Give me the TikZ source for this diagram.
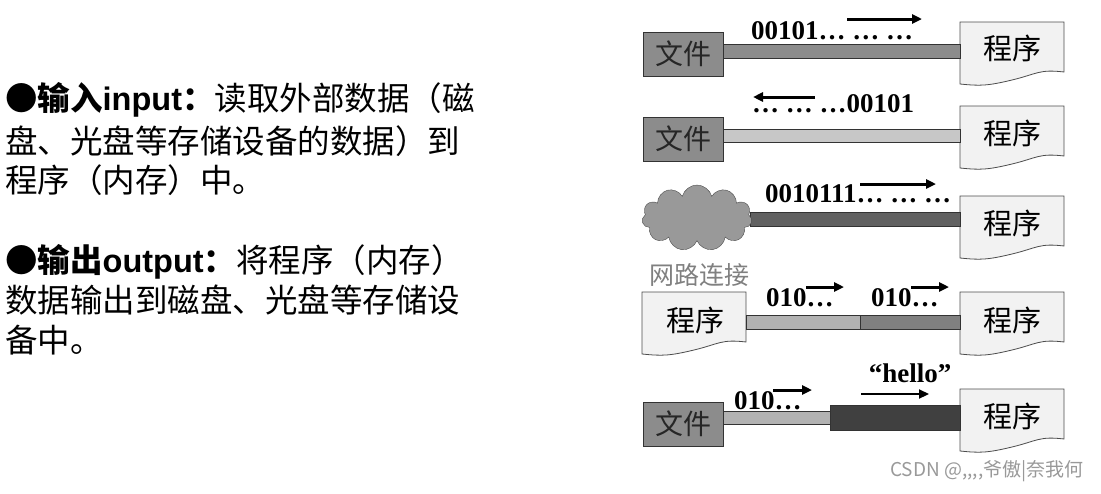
\documentclass[tikz,border=0pt]{standalone}
\usepackage{fontspec}
\setmainfont{Liberation Serif}
\newfontfamily\cjk{Noto Sans CJK SC}
\newfontfamily\sansf{Liberation Sans}
\usetikzlibrary{shapes.symbols,arrows.meta}
\begin{document}
\begin{tikzpicture}[x=1pt,y=-1pt,
  file/.style={draw=black!80,line width=1pt,fill=black!45,minimum width=80pt,minimum height=44pt,inner sep=0pt,font=\cjk\fontsize{28}{28}\selectfont,text=black!85},
  prog/.style={minimum width=104pt,minimum height=52pt,inner sep=0pt,anchor=north west},
  pt/.style={font=\cjk\fontsize{29}{29}\selectfont},
  bar/.style={draw=black!80,line width=0.8pt},
  dat/.style={font=\bfseries\fontsize{27}{27}\selectfont,inner sep=0pt},
  arr/.style={-{Triangle[length=10pt,width=9pt]},line width=3pt},
  lt/.style={anchor=west,inner sep=0pt,font=\cjk\fontsize{32.5}{32.5}\selectfont}]
\useasboundingbox (0,0) rectangle (1101,493);
\newcommand\docshape[2]{%
  \draw[draw=black!70,line width=0.8pt,fill=black!5] (#1,#2) -- ++(104,0) -- ++(0,50)
   .. controls +(-25,-3) and +(25,-6) .. ++(-52,8) .. controls +(-25,6) and +(20,2) .. ++(-52,4) -- cycle;}
% left texts
\node[lt] (t1) at (5,100) {●\textbf{输入{\sansf input}：}读取外部数据（磁};
\node[lt] (t2) at (5,141) {盘、光盘等存储设备的数据）到};
\node[lt] (t3) at (5,180) {程序（内存）中。};
\node[lt] (t4) at (5,262) {●\textbf{输出{\sansf output}：}将程序（内存）};
\node[lt] (t5) at (5,300) {数据输出到磁盘、光盘等存储设};
\node[lt] (t6) at (5,340) {备中。};
% row 1
\docshape{960}{22}
\node[prog] (p1) at (960,22) {}; \node[pt] at (1012,48) {程序};
\fill[black!45] (723,44) rectangle (960,58); \draw[bar] (723,44) rectangle (960,58);
\node[file] (f1) at (683,54) {文件};
\node[dat,anchor=west] (d1) at (751,31) {00101… … …};
\draw[arr] (847,19) -- (922,19);
% row 2
\docshape{960}{106}
\node[prog] (p2) at (960,106) {}; \node[pt] at (1012,133) {程序};
\fill[black!22] (723,129) rectangle (960,142); \draw[bar] (723,129) rectangle (960,142);
\node[file] (f2) at (683,139) {文件};
\node[dat,anchor=west] (d2) at (752,104) {… … …00101};
\draw[arr] (815,97) -- (753,97);
% row 3
\docshape{960}{196}
\node[prog] (p3) at (960,196) {}; \node[pt] at (1012,223) {程序};
\fill[black!62] (750,212) rectangle (960,226); \draw[bar] (750,212) rectangle (960,226);
\node[cloud,cloud puffs=11,aspect=1.6,draw=black!70,fill=black!40,minimum width=110pt,minimum height=66pt,inner sep=0pt] (c) at (697,218) {};
\node[font=\cjk\fontsize{25}{25}\selectfont,text=black!50] (net) at (699,275) {网路连接};
\node[dat,anchor=west] (d3) at (765,194) {0010111… … …};
\draw[arr] (860,184) -- (936,184);
% row 4
\docshape{642}{292}
\node[prog] (p4) at (642,292) {}; \node[pt] at (695,320) {程序};
\docshape{960}{292}
\node[prog] (p5) at (960,292) {}; \node[pt] at (1012,320) {程序};
\fill[black!30] (746,315) rectangle (860,329); \draw[bar] (746,315) rectangle (860,329);
\fill[black!50] (860,315) rectangle (960,329); \draw[bar] (860,315) rectangle (960,329);
\node[dat,anchor=west] (d4) at (766,298) {010…};
\draw[arr] (806,287) -- (844,287);
\node[dat,anchor=west] (d5) at (871,298) {010…};
\draw[arr] (911,287) -- (949,287);
% row 5
\docshape{960}{389}
\node[prog] (p6) at (960,389) {}; \node[pt] at (1012,416) {程序};
\fill[black!30] (723,411) rectangle (830,424); \draw[bar] (723,411) rectangle (830,424);
\fill[black!75] (830,405) rectangle (960,430); \draw[bar] (830,405) rectangle (960,430);
\node[file] (f3) at (683,424) {文件};
\node[dat,anchor=west] (d6) at (734,401) {010…};
\draw[arr] (773,390) -- (812,390);
\node[dat] (h) at (910,373) {“hello”};
\draw[arr,line width=2.2pt] (861,394) -- (929,394);
% watermark
\node[font=\cjk\fontsize{19}{19}\selectfont,text=black!40,anchor=east] (w) at (1087,471) {CSDN @,,,,爷傲|奈我何};
\end{tikzpicture}
\end{document}
